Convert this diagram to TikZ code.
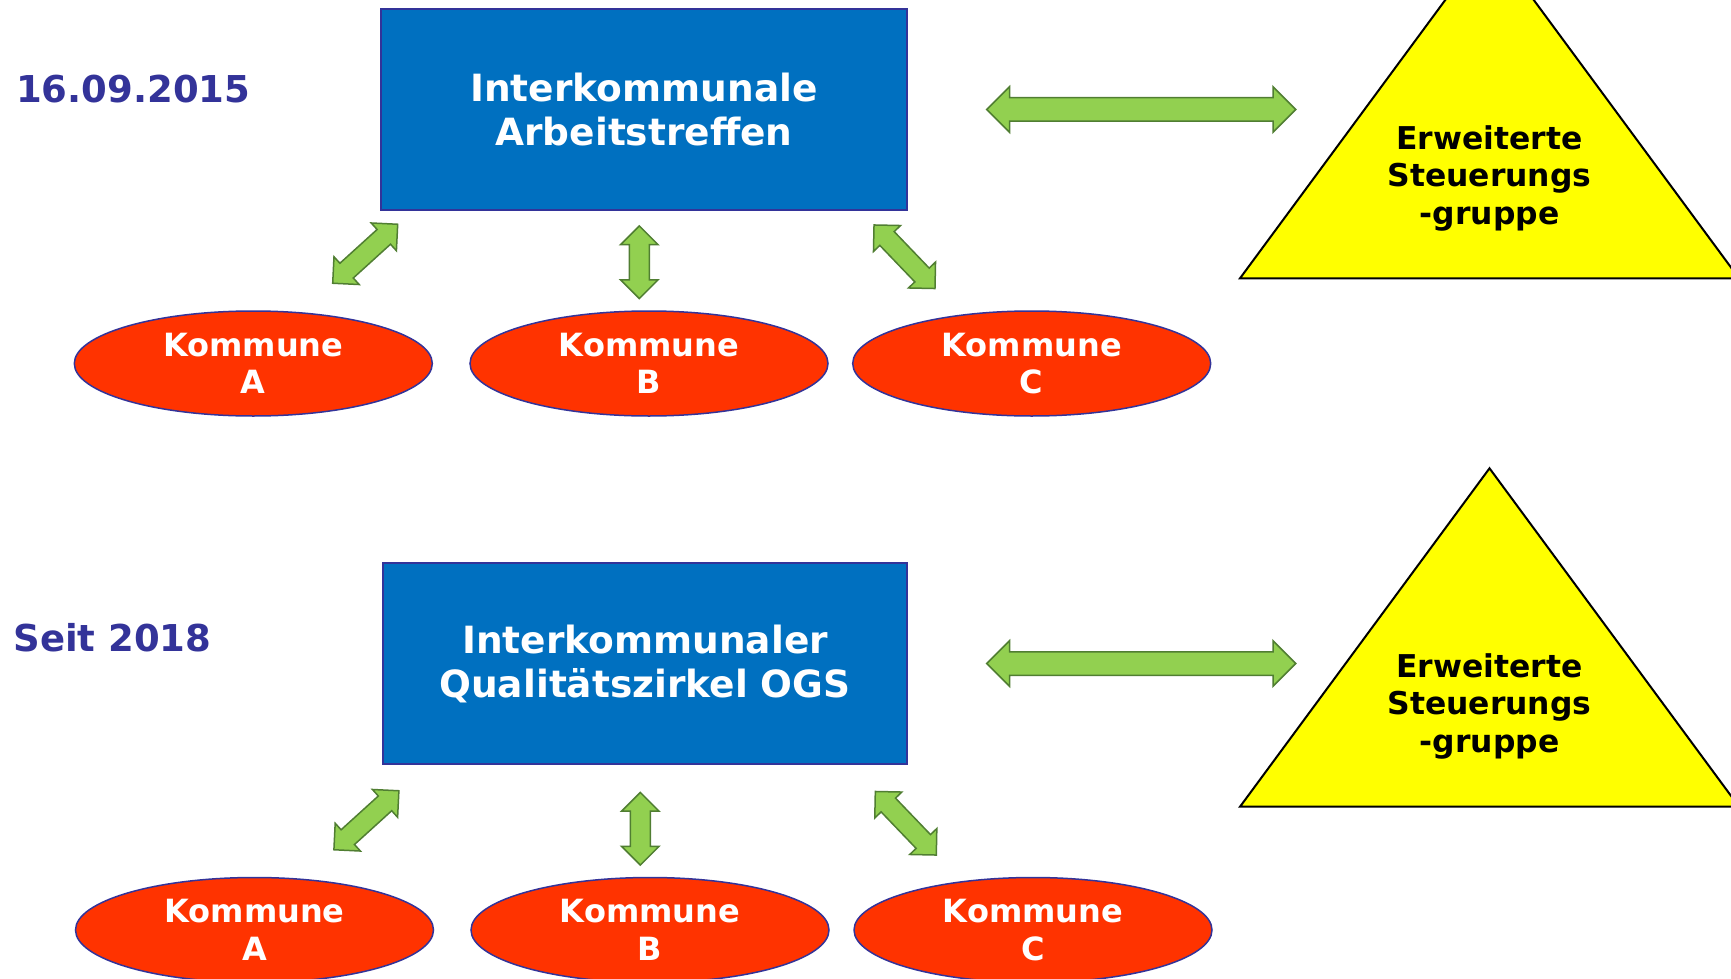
\documentclass[tikz,border=0pt]{standalone}
\usepackage{fontspec}
\setmainfont{DejaVu Sans}
\usetikzlibrary{shapes.geometric, shapes.arrows, calc}

\definecolor{boxblue}{HTML}{0070C0}
\definecolor{edgeblue}{HTML}{333399}
\definecolor{kommred}{HTML}{FF3300}
\definecolor{arrowgreen}{HTML}{92D050}
\definecolor{arrowline}{HTML}{507E32}
\definecolor{stufeyellow}{HTML}{FFFF00}

\tikzset{
  gremium/.style={draw=edgeblue, line width=1.5pt, fill=boxblue, text=white, align=center,
    minimum width=526pt, minimum height=201pt, font=\fontsize{37.5}{44}\selectfont\bfseries},
  kommune/.style={ellipse, draw=edgeblue, line width=1.5pt, fill=kommred, text=white, align=center,
    minimum width=358pt, minimum height=105pt, inner sep=0pt, font=\fontsize{32}{37.5}\selectfont\bfseries},
  datum/.style={anchor=base west, text=edgeblue, inner sep=0pt, font=\fontsize{37}{44}\selectfont\bfseries},
  stufe/.style={draw=black, line width=2pt, fill=stufeyellow, line join=miter},
  gruppe/.style={align=center, inner sep=0pt, font=\fontsize{31.4}{37.5}\selectfont\bfseries},
  pfeil/.style={double arrow, draw=arrowline, fill=arrowgreen, line width=1.5pt,
    inner xsep=0pt, inner ysep=9.2pt, double arrow head extend=8.8pt, double arrow tip angle=90},
  langpfeil/.style={pfeil, inner ysep=11pt, double arrow head extend=11pt}
}

% block arrow between two named points
\newcommand{\biarrow}[3][]{%
  \path let \p1=($(#3)-(#2)$), \n1={veclen(\x1,\y1)}, \n2={atan2(\y1,\x1)} in
    node[pfeil, #1, minimum height=\n1, rotate=\n2] at ($(#2)!0.5!(#3)$) {};}

\begin{document}
\begin{tikzpicture}[x=1pt, y=-1pt]

    \useasboundingbox[fill=white] (0,0) rectangle (1731,979);
    \clip (0,0) rectangle (1731,979);

    % Top row: 16.09.2015
    \node[datum] (dateT) at (16,102.7) {16.09.2015};
    \node[gremium] (boxT) at (644,109.5) {Interkommunale\\Arbeitstreffen};

    \node[kommune] (kTA) at (253.3,363.5) {Kommune\\A};
    \node[kommune] (kTB) at (649,363.5) {Kommune\\B};
    \node[kommune] (kTC) at (1031.7,363.5) {Kommune\\C};

    \draw[stufe] (1240,278.3) -- (1489.5,-60) -- (1739,278.3) -- cycle;
    \node[gruppe] (grpT) at (1489.5,178) {Erweiterte\\Steuerungs\\-gruppe};

    % Arrows of the top row
    \coordinate (hT1) at ([xshift=79pt]boxT.east);
    \coordinate (hT2) at ([xshift=388pt]boxT.east);
    \biarrow[langpfeil]{hT1}{hT2}
    \coordinate (aT1) at ($(kTA.north)+(79.4,-27)$);
    \coordinate (aT2) at ($(kTA.north)+(144.4,-86)$);
    \biarrow{aT1}{aT2}
    \coordinate (bT1) at ($(kTB.north)+(-9.7,-11.7)$);
    \coordinate (bT2) at ($(kTB.north)+(-9.7,-84.3)$);
    \biarrow{bT1}{bT2}
    \coordinate (cT1) at ($(kTC.north)+(-96.7,-21.7)$);
    \coordinate (cT2) at ($(kTC.north)+(-157.7,-85.3)$);
    \biarrow{cT1}{cT2}

    % Bottom row: Seit 2018
    \node[datum] (dateB) at (13.3,651.7) {Seit 2018};
    \node[gremium, minimum width=524pt] (boxB) at (645,663.5) {Interkommunaler\\Qualitätszirkel OGS};

    \node[kommune] (kBA) at (254.5,930) {Kommune\\A};
    \node[kommune] (kBB) at (650,930) {Kommune\\B};
    \node[kommune] (kBC) at (1033,930) {Kommune\\C};

    \draw[stufe] (1240,806.7) -- (1489.5,468.3) -- (1739,806.7) -- cycle;
    \node[gruppe] (grpB) at (1489.5,706.4) {Erweiterte\\Steuerungs\\-gruppe};

    % Arrows of the bottom row
    \coordinate (hB1) at ([xshift=79pt]boxB.east);
    \coordinate (hB2) at ([xshift=388pt]boxB.east);
    \biarrow[langpfeil]{hB1}{hB2}
    \coordinate (aB1) at ($(kBA.north)+(79.4,-27)$);
    \coordinate (aB2) at ($(kBA.north)+(144.4,-86)$);
    \biarrow{aB1}{aB2}
    \coordinate (bB1) at ($(kBB.north)+(-9.7,-11.7)$);
    \coordinate (bB2) at ($(kBB.north)+(-9.7,-84.3)$);
    \biarrow{bB1}{bB2}
    \coordinate (cB1) at ($(kBC.north)+(-96.7,-21.7)$);
    \coordinate (cB2) at ($(kBC.north)+(-157.7,-85.3)$);
    \biarrow{cB1}{cB2}

\end{tikzpicture}
\end{document}
